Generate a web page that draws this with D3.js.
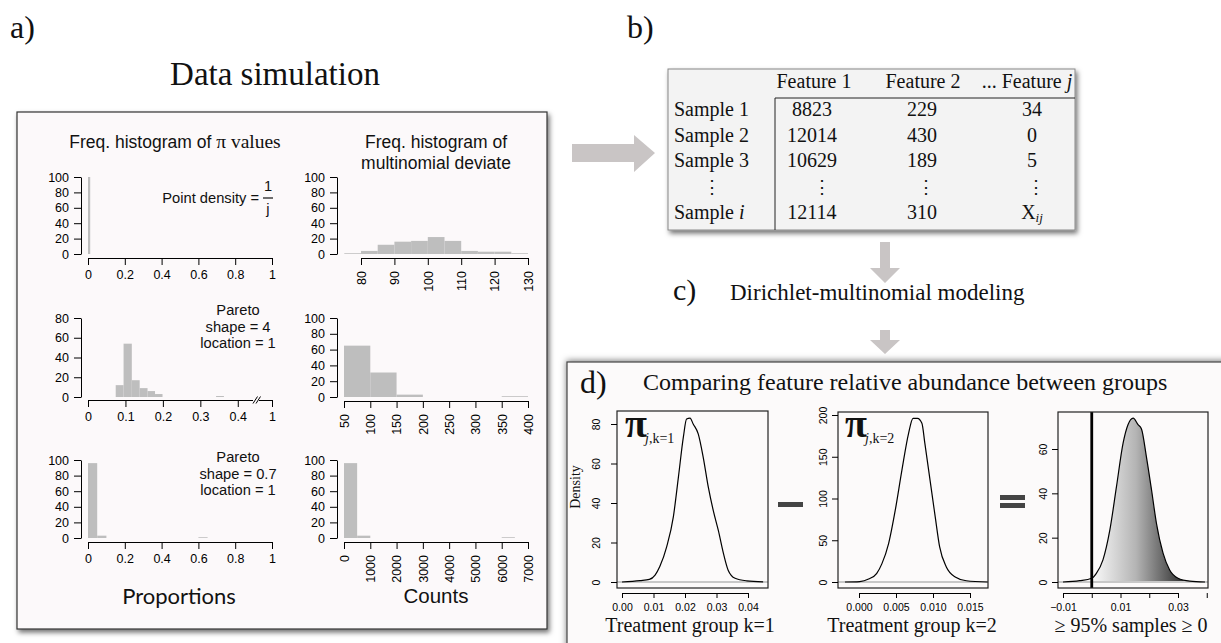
<!DOCTYPE html>
<html><head><meta charset="utf-8">
<script src="https://cdn.jsdelivr.net/npm/d3@7"></script>
<style>body{margin:0;background:#fff}svg{display:block}</style>
</head><body><svg id="c" width="1221" height="643"></svg>
<script>
// ---------------- DATA ----------------
// Panel a histograms (bin start, bin end, frequency)
const piStart = [0], piEnd = [0.012], piCount = [100];
const multiStart = [75, 80, 85, 90, 95, 100, 105, 110, 115, 120, 125];
const multiEnd   = [80, 85, 90, 95, 100, 105, 110, 115, 120, 125, 130];
const multiCount = [1, 4, 12, 16, 17, 22, 17, 4, 3, 3, 1];
const par4Start = [0.074, 0.095, 0.117, 0.138, 0.159, 0.179, 0.342];
const par4End   = [0.095, 0.117, 0.138, 0.159, 0.179, 0.199, 0.363];
const par4Count = [12, 54, 17, 9, 6, 3, 1];
const par4CntStart = [50, 100, 150, 350], par4CntEnd = [100, 150, 200, 400], par4CntCount = [65, 31, 3, 1];
const par07Start = [0, 0.05, 0.6], par07End = [0.05, 0.1, 0.65], par07Count = [96, 3, 1];
const par07CntStart = [0, 500, 6000], par07CntEnd = [500, 1000, 6500], par07CntCount = [96, 3, 1];

const propTicks = [0, 0.2, 0.4, 0.6, 0.8, 1];
const multiTicks = [80, 90, 100, 110, 120, 130];
const par4PropTicks = [0, 0.1, 0.2, 0.3, 0.4, 1];
const par4CntTicks = [50, 100, 150, 200, 250, 300, 350, 400];
const par07CntTicks = [0, 1000, 2000, 3000, 4000, 5000, 6000, 7000];
const yTicks100 = [0, 20, 40, 60, 80, 100];
const yTicks80 = [0, 20, 40, 60, 80];

// Panel b table
const tableHeaders = ["Feature 1", "Feature 2", "... Feature "];
const sampleLabels = ["Sample 1", "Sample 2", "Sample 3", "\u22EE", "Sample "];
const feature1 = ["8823", "12014", "10629", "\u22EE", "12114"];
const feature2 = ["229", "430", "189", "\u22EE", "310"];
const featureJ = ["34", "0", "5", "\u22EE", "X"];

// Panel d posterior densities
const k1X = [0.0, 0.0057, 0.0087, 0.0105, 0.012, 0.0142, 0.0163, 0.0179, 0.0195, 0.0205, 0.0216, 0.0226, 0.0242, 0.0258, 0.0274, 0.029, 0.0306, 0.0322, 0.0337, 0.0359, 0.0396, 0.0448];
const k1Y = [0, 0.7, 1.3, 3.5, 7.8, 17.9, 33, 53, 73.6, 82.5, 83, 80, 75, 63, 48, 36, 26, 14.5, 6, 1.9, 0.6, 0.1];
const k2X = [-0.0019, 0.0001, 0.0013, 0.0024, 0.0031, 0.004, 0.0049, 0.0058, 0.0067, 0.0073, 0.0079, 0.0085, 0.0089, 0.0096, 0.0103, 0.0109, 0.0118, 0.013, 0.0145, 0.0174];
const k2Y = [0, 0.5, 3.5, 10.4, 22, 46, 86, 134, 178, 196, 196, 190, 166, 122, 78, 42, 18, 6, 1.5, 0];
const diffX = [-0.01, -0.0042, 0, 0.0016, 0.0039, 0.0063, 0.0086, 0.0109, 0.0126, 0.0144, 0.0161, 0.0173, 0.019, 0.0208, 0.0225, 0.0248, 0.0271, 0.03, 0.0341, 0.0394];
const diffY = [0, 0.6, 1.7, 3.9, 10, 23.5, 43, 62.6, 70.9, 73.9, 71, 69, 56.6, 41.5, 26.5, 13, 5.4, 1.7, 0.4, 0];
const k1XTicks = [0, 0.01, 0.02, 0.03, 0.04], k1YTicks = [0, 20, 40, 60, 80];
const k2XTicks = [0, 0.005, 0.01, 0.015], k2YTicks = [0, 50, 100, 150, 200];
const diffXTicks = [-0.01, 0, 0.01, 0.02, 0.03, 0.04], diffXLabels = [-0.01, 0.01, 0.03], diffYTicks = [0, 20, 40, 60];

// ---------------- DRAW ----------------
const SANS = "'Liberation Sans', Arial, Helvetica, sans-serif";
const SERIF = "'Liberation Serif', 'Times New Roman', serif";
const svg = d3.select("#c");
const defs = svg.append("defs");
const f1 = defs.append("filter").attr("id", "sh").attr("x", "-5%").attr("y", "-5%").attr("width", "112%").attr("height", "112%");
f1.append("feDropShadow").attr("dx", 2).attr("dy", 3).attr("stdDeviation", 2.5).attr("flood-color", "#000").attr("flood-opacity", 0.55);
const f2 = defs.append("filter").attr("id", "sh2").attr("x", "-5%").attr("y", "-10%").attr("width", "112%").attr("height", "125%");
f2.append("feDropShadow").attr("dx", 0).attr("dy", -1).attr("stdDeviation", 3).attr("flood-color", "#000").attr("flood-opacity", 0.5);
const grad = defs.append("linearGradient").attr("id", "gr").attr("gradientUnits", "userSpaceOnUse")
  .attr("x1", 1092).attr("x2", 1180).attr("y1", 0).attr("y2", 0);
grad.append("stop").attr("offset", 0).attr("stop-color", "#fbfbfb");
grad.append("stop").attr("offset", 0.5).attr("stop-color", "#b4b4b4");
grad.append("stop").attr("offset", 1).attr("stop-color", "#383838");

function txt(x, y, s, size, fam, anchor) {
  return svg.append("text").attr("x", x).attr("y", y).text(s)
    .attr("font-size", size).attr("font-family", fam).attr("text-anchor", anchor || "start").attr("fill", "#111");
}

// Panel labels
txt(10, 38, "a)", 32, SERIF);
txt(627, 38, "b)", 32, SERIF);
txt(275, 85, "Data simulation", 33, SERIF, "middle");

// Panel a box
svg.append("rect").attr("x", 17).attr("y", 112).attr("width", 530).attr("height", 517)
  .attr("fill", "#fcf9fa").attr("stroke", "#333").attr("stroke-width", 1.2).attr("filter", "url(#sh)");

function hist(c) {
  const g = svg.append("g");
  const x = c.x, y = c.y;
  g.selectAll("rect").data(c.start).join("rect")
    .attr("x", d => x(d)).attr("width", (d, i) => Math.max(0.8, x(c.end[i]) - x(d)))
    .attr("y", (d, i) => y(c.count[i])).attr("height", (d, i) => y(0) - y(c.count[i]))
    .attr("fill", "#bebebe");
  const ya = g.append("g").attr("transform", `translate(${c.yAxisX},0)`)
    .call(d3.axisLeft(y).tickValues(c.yTicks).tickSize(7).tickSizeOuter(0).tickPadding(5));
  const xa = g.append("g").attr("transform", `translate(0,${c.xAxisY})`)
    .call(d3.axisBottom(x).tickValues(c.xTicks).tickSize(7).tickSizeOuter(0).tickPadding(5).tickFormat(c.fmt || (d => String(d))));
  [ya, xa].forEach(a => a.attr("font-size", 12.5).attr("font-family", SANS));
  if (c.rotate) {
    xa.selectAll("text").attr("transform", "rotate(-90)").attr("text-anchor", "end")
      .attr("x", -13).attr("y", 0).attr("dy", "0.35em");
  }
  return g;
}

// Row 1
hist({ x: d3.scaleLinear().domain([0, 1]).range([88, 272]), y: d3.scaleLinear().domain([0, 100]).range([254, 177]),
  start: piStart, end: piEnd, count: piCount, yTicks: yTicks100, xTicks: propTicks, yAxisX: 81, xAxisY: 258 });
hist({ x: d3.scaleLinear().domain([80, 130]).range([361, 528]), y: d3.scaleLinear().domain([0, 100]).range([254, 177]),
  start: multiStart, end: multiEnd, count: multiCount, yTicks: yTicks100, xTicks: multiTicks, yAxisX: 337, xAxisY: 258, rotate: true });
// Row 2
hist({ x: d3.scaleLinear().domain([0, 0.45, 1]).range([88, 256.5, 272]), y: d3.scaleLinear().domain([0, 80]).range([397, 318]),
  start: par4Start, end: par4End, count: par4Count, yTicks: yTicks80, xTicks: par4PropTicks, yAxisX: 81, xAxisY: 400 });
// axis break mark
svg.append("rect").attr("x", 253).attr("y", 398).attr("width", 6).attr("height", 4).attr("fill", "#fcf9fa");
[253, 256].forEach(b => svg.append("line").attr("x1", b).attr("y1", 403.5).attr("x2", b + 4.5).attr("y2", 396.5)
  .attr("stroke", "#000").attr("stroke-width", 1));
hist({ x: d3.scaleLinear().domain([50, 400]).range([344, 528]), y: d3.scaleLinear().domain([0, 100]).range([397, 318]),
  start: par4CntStart, end: par4CntEnd, count: par4CntCount, yTicks: yTicks100, xTicks: par4CntTicks, yAxisX: 337, xAxisY: 401, rotate: true });
// Row 3
hist({ x: d3.scaleLinear().domain([0, 1]).range([88, 272]), y: d3.scaleLinear().domain([0, 100]).range([538, 460]),
  start: par07Start, end: par07End, count: par07Count, yTicks: yTicks100, xTicks: propTicks, yAxisX: 81, xAxisY: 542 });
hist({ x: d3.scaleLinear().domain([0, 7000]).range([344, 528]), y: d3.scaleLinear().domain([0, 100]).range([538, 460]),
  start: par07CntStart, end: par07CntEnd, count: par07CntCount, yTicks: yTicks100, xTicks: par07CntTicks, yAxisX: 337, xAxisY: 542, rotate: true });

// Panel a titles & annotations
const t1 = txt(175, 148, "", 17.5, SANS, "middle");
t1.append("tspan").text("Freq. histogram of ");
t1.append("tspan").attr("font-family", SERIF).attr("font-size", 19.5).text("\u03C0 values");
txt(436, 148, "Freq. histogram of", 17.5, SANS, "middle");
txt(436, 169, "multinomial deviate", 17.5, SANS, "middle");
txt(259, 203, "Point density =", 14.7, SANS, "end");
txt(268, 191, "1", 14.7, SANS, "middle");
svg.append("line").attr("x1", 263).attr("x2", 273).attr("y1", 198).attr("y2", 198).attr("stroke", "#111").attr("stroke-width", 1.2);
txt(268, 214, "j", 14.7, SANS, "middle");
["Pareto", "shape = 4", "location = 1"].forEach((s, i) => txt(238, 315 + i * 16.5, s, 14.7, SANS, "middle"));
["Pareto", "shape = 0.7", "location = 1"].forEach((s, i) => txt(238, 462 + i * 16.5, s, 14.7, SANS, "middle"));
txt(179, 604, "Proportions", 22, "Lato, 'Open Sans', sans-serif", "middle");
txt(436, 603, "Counts", 20.5, SANS, "middle");

// Arrows
const ac = "#c9c5c5";
svg.append("path").attr("d", "M572,144 H634 V135 L655,153 L634,172 V162 H572 Z").attr("fill", ac);
svg.append("path").attr("d", "M880,242 H890 V268 H900 L885,283 L870,268 H880 Z").attr("fill", ac);
svg.append("path").attr("d", "M880,330 H890 V340 H900 L885,354 L870,340 H880 Z").attr("fill", ac);

// Panel b table
svg.append("rect").attr("x", 668).attr("y", 69).attr("width", 407).attr("height", 161)
  .attr("fill", "#f3f3f3").attr("stroke", "#888").attr("stroke-width", 1).attr("filter", "url(#sh)");
svg.append("line").attr("x1", 775).attr("x2", 1075).attr("y1", 98).attr("y2", 98).attr("stroke", "#222");
svg.append("line").attr("x1", 775).attr("x2", 775).attr("y1", 98).attr("y2", 230).attr("stroke", "#222");
const colX = [812, 922, 1032];
const rowY = [116, 142, 167, 193, 219];
tableHeaders.forEach((h, i) => {
  const t = txt([814, 923, 1027][i], 88, h, 20, SERIF, "middle");
  if (i === 2) t.append("tspan").attr("font-style", "italic").text("j");
});
sampleLabels.forEach((s, i) => {
  if (s === "\u22EE") { txt(712, rowY[i], s, 18, "'DejaVu Serif', serif", "middle"); return; }
  const t = txt(674, rowY[i], s, 20, SERIF, "start");
  if (i === 4) t.append("tspan").attr("font-style", "italic").text("i");
});
[feature1, feature2, featureJ].forEach((col, ci) => {
  col.forEach((v, ri) => {
    if (v === "\u22EE") { txt(colX[ci] + (ci === 0 ? 10 : 4), rowY[ri], v, 18, "'DejaVu Serif', serif", "middle"); return; }
    const t = txt(colX[ci], rowY[ri], v, 20, SERIF, "middle");
    if (v === "X") t.append("tspan").attr("font-style", "italic").attr("font-size", 13).attr("dy", 3).text("ij");
  });
});

// Panel c
txt(673, 300, "c)", 30, SERIF);
txt(730, 300, "Dirichlet-multinomial modeling", 23, SERIF);

// Panel d box
svg.append("rect").attr("x", 567).attr("y", 362).attr("width", 680).attr("height", 300)
  .attr("fill", "#fcfafa").attr("stroke", "#444").attr("stroke-width", 1.2).attr("filter", "url(#sh2)");
txt(580, 393, "d)", 32, SERIF);
txt(643, 390, "Comparing feature relative abundance between groups", 24, SERIF);

function dens(c) {
  const g = svg.append("g");
  const x = c.x, y = c.y;
  const id = "clip" + c.id;
  defs.append("clipPath").attr("id", id).append("rect")
    .attr("x", c.box[0]).attr("y", c.box[1]).attr("width", c.box[2] - c.box[0]).attr("height", c.box[3] - c.box[1]);
  const pts = c.xs.map((v, i) => [v, c.ys[i]]);
  if (c.fill) {
    defs.append("clipPath").attr("id", id + "f").append("rect")
      .attr("x", x(0)).attr("y", c.box[1]).attr("width", c.box[2] - x(0)).attr("height", c.box[3] - c.box[1]);
    g.append("path").datum(pts).attr("clip-path", `url(#${id}f)`)
      .attr("d", d3.area().x(d => x(d[0])).y0(y(0)).y1(d => y(d[1])).curve(d3.curveMonotoneX))
      .attr("fill", "url(#gr)");
  }
  g.append("line").attr("x1", c.box[0]).attr("x2", c.box[2]).attr("y1", y(0)).attr("y2", y(0))
    .attr("stroke", "#c8c8c8").attr("stroke-width", 2);
  g.append("path").datum(pts).attr("clip-path", `url(#${id})`)
    .attr("d", d3.line().x(d => x(d[0])).y(d => y(d[1])).curve(d3.curveMonotoneX))
    .attr("fill", "none").attr("stroke", "#000").attr("stroke-width", 1.2);
  if (c.vline) g.append("line").attr("x1", x(0)).attr("x2", x(0)).attr("y1", c.box[1]).attr("y2", c.box[3])
    .attr("stroke", "#000").attr("stroke-width", 2.8);
  g.append("rect").attr("x", c.box[0]).attr("y", c.box[1]).attr("width", c.box[2] - c.box[0]).attr("height", c.box[3] - c.box[1])
    .attr("fill", "none").attr("stroke", "#222").attr("stroke-width", 1.2);
  const ya = g.append("g").attr("transform", `translate(${c.box[0]},0)`)
    .call(d3.axisLeft(y).tickValues(c.yTicks).tickSize(6).tickSizeOuter(0));
  ya.select(".domain").remove();
  ya.selectAll("text").attr("transform", "rotate(-90)").attr("x", 0).attr("y", -c.yLabOff).attr("dy", 0).attr("text-anchor", "middle");
  const xa = g.append("g").attr("transform", `translate(0,${c.box[3] + 5})`)
    .call(d3.axisBottom(x).tickValues(c.xTicks).tickSize(5).tickSizeOuter(0).tickPadding(6).tickFormat(c.fmt));
  [ya, xa].forEach(a => a.attr("font-size", 10.5).attr("font-family", SANS));
}

dens({ id: 1, x: d3.scaleLinear().domain([0, 0.04]).range([622, 748]), y: d3.scaleLinear().domain([0, 80]).range([582, 424]),
  xs: k1X, ys: k1Y, box: [617, 411, 768, 588], xTicks: k1XTicks, yTicks: k1YTicks, fmt: d3.format(".2f"), yLabOff: 17 });
dens({ id: 2, x: d3.scaleLinear().domain([0, 0.015]).range([859, 970]), y: d3.scaleLinear().domain([0, 200]).range([582, 415]),
  xs: k2X, ys: k2Y, box: [838, 412, 988, 588], xTicks: k2XTicks, yTicks: k2YTicks, fmt: d3.format(".3f"), yLabOff: 11 });
dens({ id: 3, x: d3.scaleLinear().domain([-0.01, 0.03]).range([1063, 1178]), y: d3.scaleLinear().domain([0, 60]).range([582, 449]),
  xs: diffX, ys: diffY, box: [1058, 412, 1208, 588], xTicks: diffXTicks, yTicks: diffYTicks, yLabOff: 11,
  fmt: d => diffXLabels.includes(d) ? d3.format(".2f")(d) : "", fill: true, vline: true });

// Density label, pi labels, operators
txt(0, 0, "Density", 14, SERIF, "middle").attr("transform", "translate(580,487) rotate(-90)");
function piLabel(x, y, k) {
  txt(x, y, "\u03C0", 40, SERIF, "start").attr("font-weight", "bold");
  const s = txt(x + 20, y + 6, "", 14, SERIF, "start");
  s.append("tspan").attr("font-style", "italic").text("j");
  s.append("tspan").text(",k=" + k);
}
piLabel(625, 437, 1);
piLabel(845, 437, 2);
svg.append("rect").attr("x", 778).attr("y", 502).attr("width", 25).attr("height", 5).attr("fill", "#444");
svg.append("rect").attr("x", 1000).attr("y", 495).attr("width", 25).attr("height", 5).attr("fill", "#444");
svg.append("rect").attr("x", 1000).attr("y", 503).attr("width", 25).attr("height", 5).attr("fill", "#444");
txt(690, 632, "Treatment group k=1", 20, SERIF, "middle");
txt(912, 632, "Treatment group k=2", 20, SERIF, "middle");
txt(1131, 632, "\u2265 95% samples \u2265 0", 20, SERIF, "middle");
</script></body></html>
